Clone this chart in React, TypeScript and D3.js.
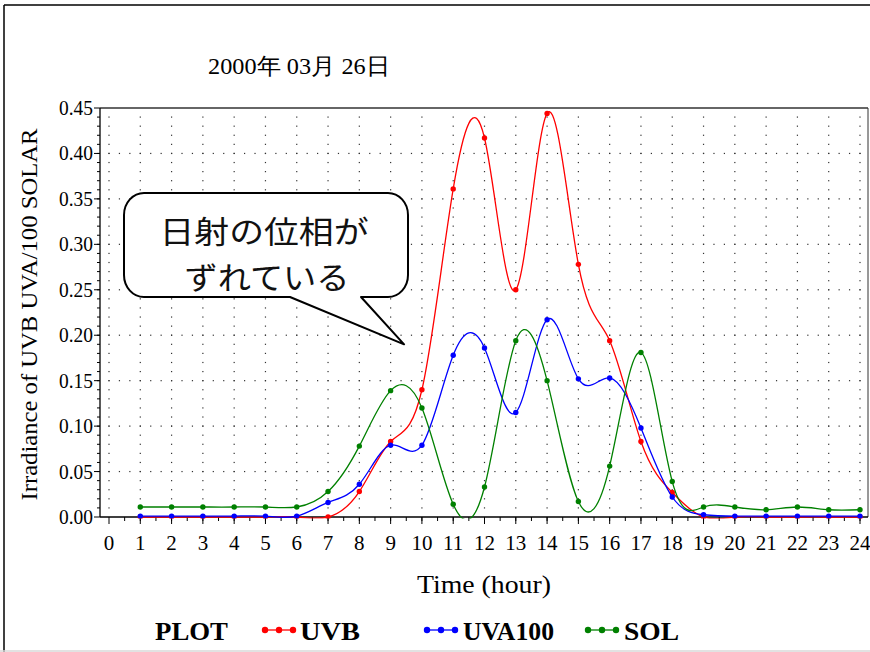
import React from "react";
import * as d3 from "d3";

const hours = [1, 2, 3, 4, 5, 6, 7, 8, 9, 10, 11, 12, 13, 14, 15, 16, 17, 18, 19, 20, 21, 22, 23, 24];
const uvb = [0, 0, 0, 0, 0, 0, 0, 0.028, 0.083, 0.14, 0.361, 0.417, 0.25, 0.444, 0.278, 0.194, 0.083, 0.027, 0, 0, 0, 0, 0, 0];
const uva100 = [0.001, 0.001, 0.001, 0.001, 0.001, 0.001, 0.016, 0.036, 0.079, 0.079, 0.178, 0.186, 0.115, 0.217, 0.152, 0.153, 0.098, 0.022, 0.0025, 0.001, 0.001, 0.001, 0.001, 0.001];
const sol = [0.011, 0.011, 0.011, 0.011, 0.011, 0.011, 0.028, 0.078, 0.139, 0.12, 0.014, 0.033, 0.194, 0.15, 0.017, 0.056, 0.181, 0.039, 0.011, 0.011, 0.008, 0.011, 0.008, 0.008];

const xTicks = [0, 1, 2, 3, 4, 5, 6, 7, 8, 9, 10, 11, 12, 13, 14, 15, 16, 17, 18, 19, 20, 21, 22, 23, 24];
const yTicks = [0, 0.05, 0.1, 0.15, 0.2, 0.25, 0.3, 0.35, 0.4, 0.45];
const yTickLabels = ["0.00", "0.05", "0.10", "0.15", "0.20", "0.25", "0.30", "0.35", "0.40", "0.45"];

const seriesNames = ["UVB", "UVA100", "SOL"];
const seriesColors = ["#ff0000", "#0000ff", "#008000"];
const seriesValues = [uvb, uva100, sol];

const title = "2000年 03月 26日";
const yLabel = "Irradiance of UVB UVA/100 SOLAR";
const xLabel = "Time (hour)";
const calloutLines = ["日射の位相が", "ずれている"];

const W = 870;
const H = 652;
const L = 100, R = 868, T = 108, B = 517;
const SERIF = "'Liberation Serif', 'DejaVu Serif', serif";

export default function App() {
  const x = d3.scaleLinear().domain([0, 24]).range([109, 860]);
  const y = d3.scaleLinear().domain([0, 0.45]).range([B, T]);

  const line = d3
    .line<[number, number]>()
    .x((d) => x(d[0]))
    .y((d) => y(d[1]))
    .curve(d3.curveNatural);

  // grid dot lattice
  const dots: { cx: number; cy: number }[] = [];
  const minorY = d3.range(1, 45).map((i) => i / 100);
  xTicks.forEach((h) => {
    minorY.forEach((v) => dots.push({ cx: x(h), cy: y(v) }));
  });
  const thirds = d3.range(0, 73).map((i) => i / 3);
  yTicks.slice(1, -1).forEach((v) => {
    thirds.forEach((h) => dots.push({ cx: x(h), cy: y(v) }));
  });

  const halfHours = d3.range(0, 48).map((i) => i / 2 + 0.5);

  // callout geometry
  const bx0 = 124, by0 = 193, bx1 = 408, by1 = 297, rx = 20, ry = 22;
  const tip = [x(9.43), y(0.19)];
  const bubble = `M${bx0 + rx},${by0} L${bx1 - rx},${by0} A${rx},${ry} 0 0 1 ${bx1},${by0 + ry} L${bx1},${by1 - ry} A${rx},${ry} 0 0 1 ${bx1 - rx},${by1} L361,${by1} L${tip[0]},${tip[1]} L290,${by1} L${bx0 + rx},${by1} A${rx},${ry} 0 0 1 ${bx0},${by1 - ry} L${bx0},${by0 + ry} A${rx},${ry} 0 0 1 ${bx0 + rx},${by0} Z`;

  const legendItems = [
    { sym: 262, text: 300, w: 60 },
    { sym: 424, text: 463, w: 91 },
    { sym: 585, text: 624, w: 55 },
  ];

  return (
    <svg
      width={W}
      height={H}
      style={{ position: "absolute", left: 0, top: 0, background: "#fff" }}
      fontFamily={SERIF}
    >
      <rect x={0} y={0} width={W} height={H} fill="#fff" />
      {/* outer slide frame */}
      <line x1={4} y1={5} x2={W} y2={5} stroke="#000" strokeWidth={1.5} />
      <line x1={4} y1={5} x2={4} y2={H} stroke="#000" strokeWidth={1.5} />
      <line x1={0} y1={651} x2={W} y2={651} stroke="#d8d8d8" strokeWidth={1.5} />

      <text x={208} y={74} fontSize={23} textLength={182} lengthAdjust="spacingAndGlyphs">
        {title}
      </text>

      {/* grid */}
      <g fill="#333">
        {dots.map((d, i) => (
          <rect key={i} x={d.cx - 0.6} y={d.cy - 0.6} width={1.2} height={1.2} />
        ))}
      </g>

      {/* frame */}
      <line x1={L} y1={T} x2={R} y2={T} stroke="#333" strokeWidth={1.5} />
      <line x1={R} y1={T} x2={R} y2={B} stroke="#333" strokeWidth={1} />
      <line x1={L} y1={T} x2={L} y2={B} stroke="#000" strokeWidth={1.3} />
      <line x1={L} y1={B} x2={R} y2={B} stroke="#000" strokeWidth={1.3} />

      {/* y ticks */}
      {minorY.map((v, i) => (
        <line key={"ym" + i} x1={L - 3} x2={L} y1={y(v)} y2={y(v)} stroke="#000" strokeWidth={1} />
      ))}
      {yTicks.map((v, i) => (
        <g key={"yt" + i}>
          <line x1={L - 6} x2={L} y1={y(v)} y2={y(v)} stroke="#000" strokeWidth={1} />
          <text x={93} y={y(v) + 7} fontSize={21} textAnchor="end" textLength={34} lengthAdjust="spacingAndGlyphs">
            {yTickLabels[i]}
          </text>
        </g>
      ))}

      {/* x ticks */}
      {halfHours.map((h, i) => (
        <line key={"xm" + i} x1={x(h)} x2={x(h)} y1={B} y2={B + 4} stroke="#000" strokeWidth={1} />
      ))}
      {xTicks.map((h) => (
        <g key={"xt" + h}>
          <line x1={x(h)} x2={x(h)} y1={B} y2={B + 7} stroke="#000" strokeWidth={1} />
          <text x={x(h)} y={550} fontSize={21} textAnchor="middle">
            {h}
          </text>
        </g>
      ))}

      <text x={484} y={593} fontSize={26} textAnchor="middle" textLength={134} lengthAdjust="spacingAndGlyphs">
        {xLabel}
      </text>
      <text
        transform={`translate(37,${(T + B) / 2 + 2}) rotate(-90)`}
        fontSize={24}
        textAnchor="middle"
        textLength={372}
        lengthAdjust="spacingAndGlyphs"
      >
        {yLabel}
      </text>

      {/* series */}
      <defs>
        <clipPath id="plotclip">
          <rect x={L} y={T} width={R - L} height={B - T + 1.5} />
        </clipPath>
      </defs>
      <g clipPath="url(#plotclip)">
        {seriesValues.map((vals, si) => {
          const pts = hours.map((h, i) => [h, vals[i]] as [number, number]);
          return (
            <g key={"s" + si}>
              <path d={line(pts) || ""} fill="none" stroke={seriesColors[si]} strokeWidth={1.3} />
              {pts.map((p, i) => (
                <circle key={i} cx={x(p[0])} cy={y(p[1])} r={2.7} fill={seriesColors[si]} />
              ))}
            </g>
          );
        })}
      </g>

      {/* callout */}
      <path d={bubble} fill="#fff" stroke="#000" strokeWidth={2} strokeLinejoin="round" />
      <g fontFamily="'Noto Sans CJK JP', sans-serif" fontSize={31} textAnchor="middle" fill="#111">
        <text x={264} y={243} textLength={209} lengthAdjust="spacingAndGlyphs">{calloutLines[0]}</text>
        <text x={267} y={289} textLength={165} lengthAdjust="spacingAndGlyphs">{calloutLines[1]}</text>
      </g>

      {/* legend */}
      <g fontWeight="bold" fontSize={25}>
        <text x={155} y={640} textLength={73} lengthAdjust="spacingAndGlyphs">PLOT</text>
        {legendItems.map((it, i) => (
          <g key={"lg" + i}>
            <line x1={it.sym + 3} x2={it.sym + 31} y1={630} y2={630} stroke={seriesColors[i]} strokeWidth={1.3} />
            {[0, 1, 2].map((k) => (
              <circle key={k} cx={it.sym + 3 + k * 14} cy={630} r={3.2} fill={seriesColors[i]} />
            ))}
            <text x={it.text} y={640} textLength={it.w} lengthAdjust="spacingAndGlyphs">{seriesNames[i]}</text>
          </g>
        ))}
      </g>
    </svg>
  );
}
